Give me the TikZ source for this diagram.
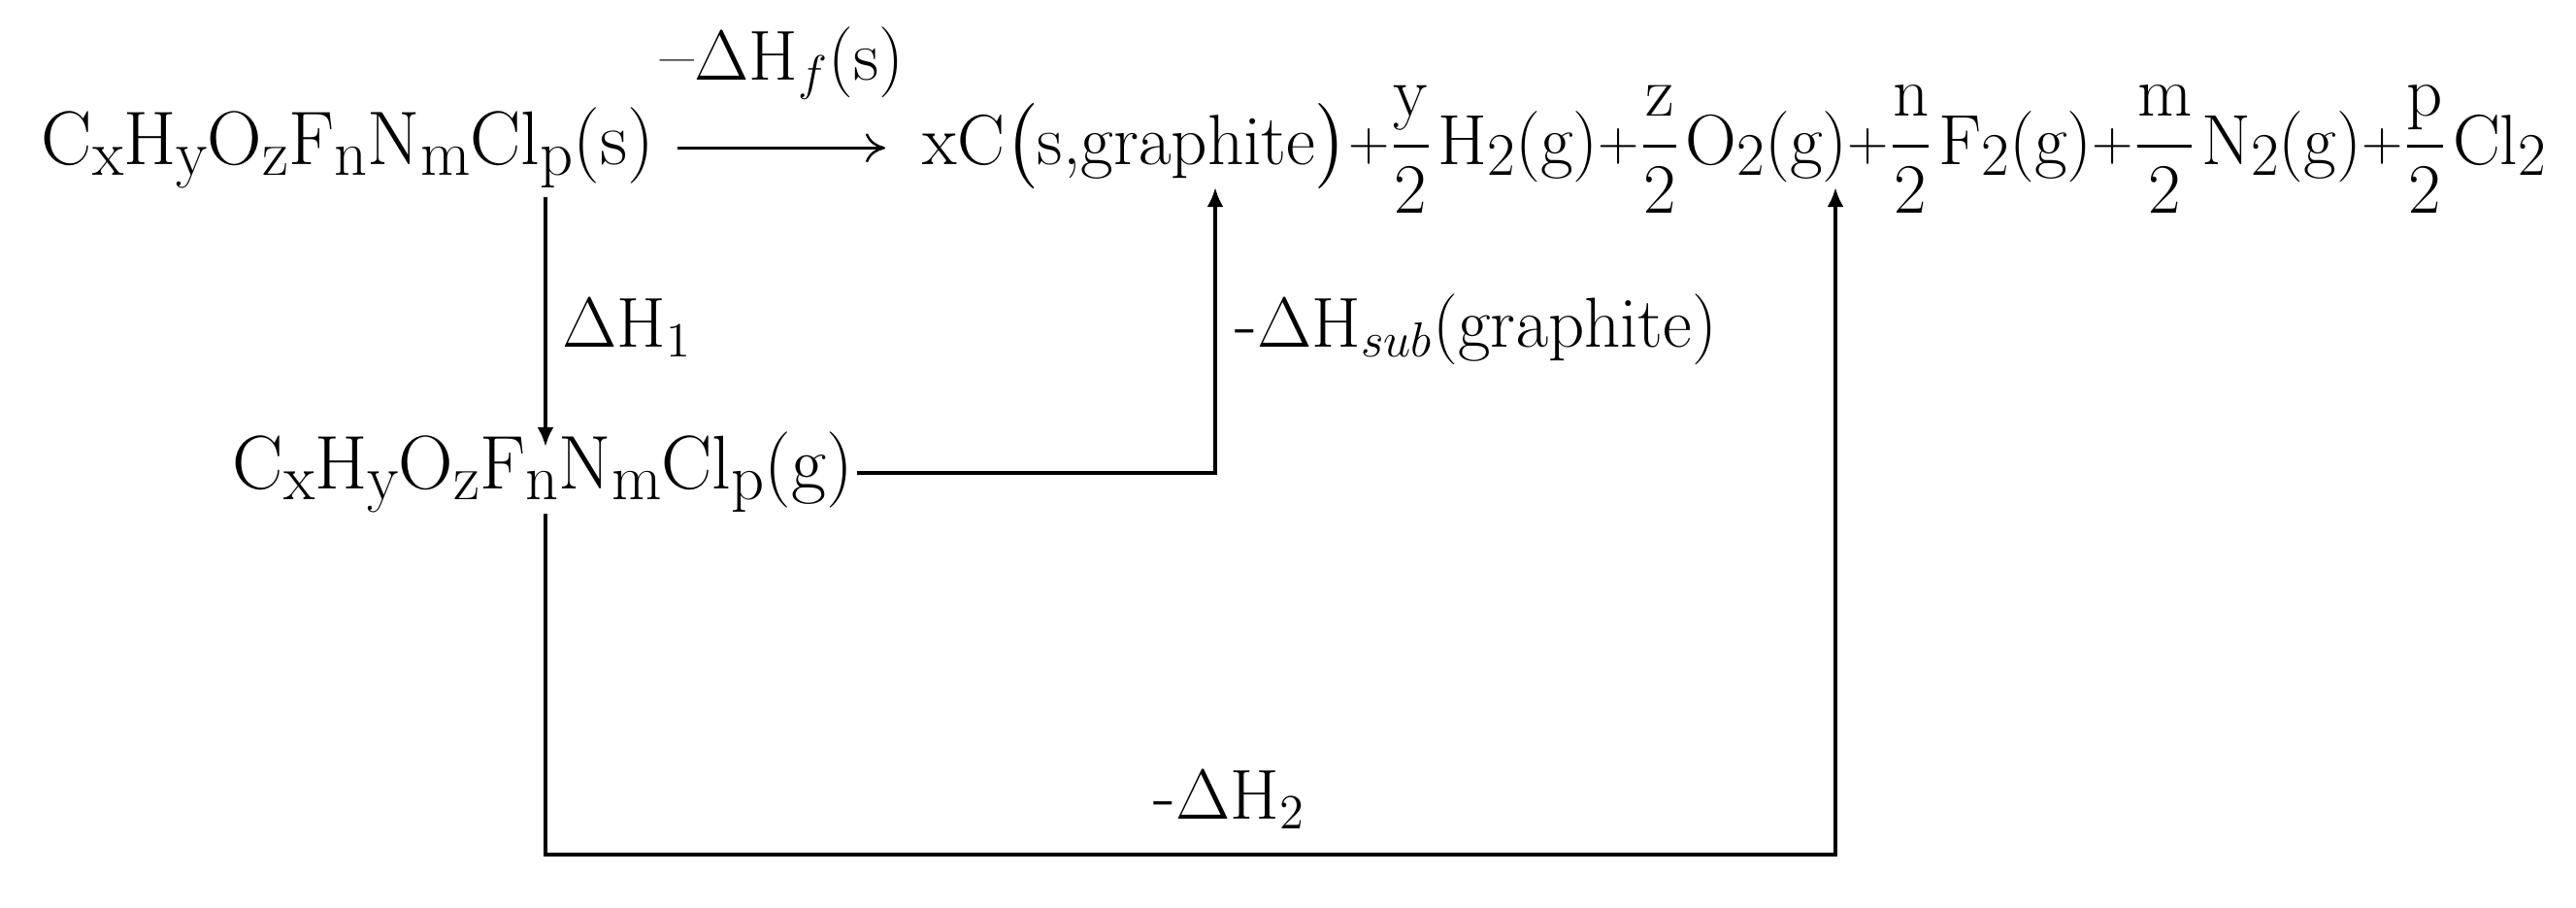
\documentclass[tikz,border=0pt]{standalone}
\usepackage{amsmath,amssymb}
\usepackage{graphicx}
\usepackage{tikz}
\usetikzlibrary{arrows.meta}
\newcommand{\ix}[1]{\raisebox{-0.15em}{\scalebox{0.85}{#1}}}
\newcommand{\pl}{\raisebox{0.05em}{\scalebox{0.8}{+}}}
\newcommand{\half}[1]{$\dfrac{\mathrm{#1}}{2}$\kern0.08em}

\begin{document}
\begin{tikzpicture}[font=\fontsize{21.5}{26}\selectfont,inner sep=0pt,
  formula/.style={font=\fontsize{22.3}{26}\selectfont},
  link/.style={line width=1.1pt,-{Latex[length=0.2cm,width=0.17cm]}},
  xarrow/.style={line width=0.7pt,-{To[length=0.2cm,width=0.3cm]}}]
\useasboundingbox (0,0) rectangle (26.54,-9.34);

\node (texts) at (0.42,-1.69) [anchor=base west,formula] {C\ix{x}H\ix{y}O\ix{z}F\ix{n}N\ix{m}Cl\ix{p}(s)};
\node (elems) at (9.50,-1.69) [anchor=base west,font=\fontsize{20.85}{26}\selectfont] {xC$\bigl($s,graphite$\bigr)$\pl\half{y}H\ix{2}(g)\pl\half{z}O\ix{2}(g)\pl\half{n}F\ix{2}(g)\pl\half{m}N\ix{2}(g)\pl\half{p}Cl\ix{2}};
\node (textg) at (2.39,-5.03) [anchor=base west,formula] {C\ix{x}H\ix{y}O\ix{z}F\ix{n}N\ix{m}Cl\ix{p}(g)};

\node (dhf) at (8.06,-0.82) [anchor=base] {$\text{--}\Delta\mathrm{H}_{f}(\mathrm{s})$};
\node (dh1) at (5.79,-3.57) [anchor=base west] {$\Delta\mathrm{H}_1$};
\node (dhsub) at (12.72,-3.57) [anchor=base west] {$\text{-}\Delta\mathrm{H}_{sub}(\mathrm{graphite})$};
\node (dh2) at (11.88,-8.43) [anchor=base west] {$\text{-}\Delta\mathrm{H}_2$};

\coordinate (tip1) at (5.62,-4.60);
\coordinate (tipc) at (12.52,-1.93);
\coordinate (tipo) at (18.91,-1.93);
\coordinate (corner) at (5.62,-8.80);

\draw [xarrow,shorten <=0.23cm,shorten >=0.38cm] (texts.east) -- (texts.east -| elems.west);
\draw [link,shorten <=0.08cm] (texts.south -| tip1) -- (tip1);
\draw [link,shorten <=0.03cm] ([yshift=0.16cm]textg.base east) -- ([yshift=0.16cm]textg.base east -| tipc) -- (tipc);
\draw [link] (textg.south -| corner) -- (corner) -| (tipo);
\end{tikzpicture}
\end{document}
